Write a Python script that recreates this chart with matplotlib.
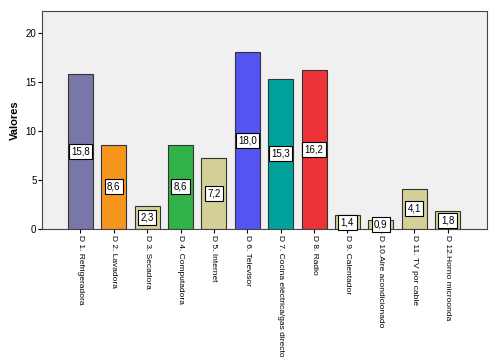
import matplotlib
matplotlib.use("Agg")
import matplotlib.pyplot as plt

categories = ["D 1. Refrigeradora", "D 2. Lavadora", "D 3. Secadora", "D 4. Computadora",
              "D 5. Internet", "D 6. Televisor", "D 7. Cocina eléctrica/gas directo",
              "D 8. Radio", "D 9. Calentador", "D 10.Aire acondicionado",
              "D 11. TV por cable", "D 12.Horno microonda"]
values = [15.8, 8.6, 2.3, 8.6, 7.2, 18.0, 15.3, 16.2, 1.4, 0.9, 4.1, 1.8]
colors = ["#7878A8", "#F7961E", "#D5CF98", "#32B34A", "#D5CF98", "#5454F2",
          "#00A39B", "#EE3338", "#D5CF98", "#D5CF98", "#D5CF98", "#D5CF98"]

plt.rcParams['font.family'] = ['Liberation Sans', 'DejaVu Sans']

fig = plt.figure(figsize=(4.93, 3.59), dpi=100)
ax = fig.add_axes([42/493, 1-229/359, (487-42)/493, (229-11)/359])
ax.set_facecolor("#F0F0F0")
x = list(range(len(values)))
ax.bar(x, values, width=0.75, color=colors, edgecolor="#333333", linewidth=0.8, zorder=2)
for xi, v in zip(x, values):
    ax.text(xi, v/2, f"{v:.1f}".replace(".", ","), ha="center", va="center", fontsize=7,
            bbox=dict(boxstyle="square,pad=0.25", facecolor="white", edgecolor="black", linewidth=0.8),
            zorder=3)
ax.set_xlim(-1.15, 12.18)
ax.set_ylim(0, 22.2)
ax.set_yticks([0, 5, 10, 15, 20])
ax.set_xticks(x)
ax.set_xticklabels(categories, rotation=-90, fontsize=6, va="top", ha="center")
ax.tick_params(axis="y", labelsize=7, length=3, width=0.8, pad=1)
ax.tick_params(axis="x", length=3, width=0.8, pad=1)
ax.set_ylabel("Valores", fontsize=8, fontweight="bold", labelpad=4)
for s in ax.spines.values():
    s.set_color("#444444")
    s.set_linewidth(0.8)
fig.savefig("out.png", dpi=100, facecolor="white")
